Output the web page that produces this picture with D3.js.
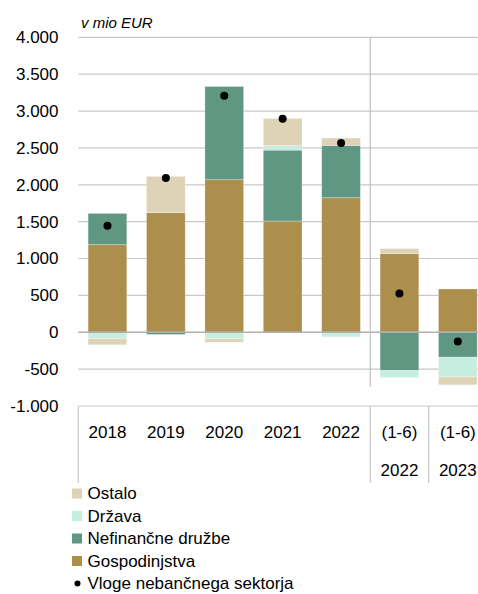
<!DOCTYPE html>
<html>
<head>
<meta charset="utf-8">
<script src="https://cdn.jsdelivr.net/npm/d3@7"></script>
<style>
  body { margin: 0; background: #fff; }
  svg { display: block; font-family: "Liberation Sans", Arial, sans-serif; }
</style>
</head>
<body>
<div id="chart"></div>
<script>
// data (mio EUR)
var categories = ["2018", "2019", "2020", "2021", "2022", "(1-6) 2022", "(1-6) 2023"];
var topLabels = ["2018", "2019", "2020", "2021", "2022", "(1-6)", "(1-6)"];
var subLabels = ["", "", "", "", "", "2022", "2023"];
var gospodinjstva = [1188, 1622, 2069, 1508, 1825, 1066, 587];
var nefinancne = [424, -30, 1264, 962, 709, -519, -339];
var drzava = [-85, 0, -90, 64, -63, -95, -266];
var ostalo = [-85, 492, -45, 366, 100, 68, -108];
var vloge = [1446, 2091, 3207, 2895, 2566, 524, -126];
var yTicks = [-1000, -500, 0, 500, 1000, 1500, 2000, 2500, 3000, 3500, 4000];

var seriesNames = ["Gospodinjstva", "Nefinančne družbe", "Država", "Ostalo"];
var seriesValues = [gospodinjstva, nefinancne, drzava, ostalo];
var seriesColors = ["#ad8f4d", "#5f9783", "#c6ede0", "#ded3b7"];

var width = 478, height = 594;
var plotLeft = 78.3, plotRight = 487, plotTop = 37.3, plotBottom = 406;

var svg = d3.select("#chart").append("svg")
    .attr("width", width)
    .attr("height", height);

var x = d3.scaleBand()
    .domain(categories)
    .range([plotLeft, plotRight])
    .paddingInner(0.337)
    .paddingOuter(0.168);

var y = d3.scaleLinear()
    .domain([-1000, 4000])
    .range([plotBottom, plotTop]);

var fmt = function(v) {
  var s = d3.format(",")(v).replace(/,/g, ".");
  return s.replace("−", "-");
};

// gridlines
svg.append("g").selectAll("line.grid")
  .data(yTicks.filter(function(d){ return d !== 0 && d !== -1000; }))
  .enter().append("line")
    .attr("x1", plotLeft).attr("x2", width)
    .attr("y1", function(d){ return y(d); })
    .attr("y2", function(d){ return y(d); })
    .style("stroke", "#c8c8c8")
    .style("stroke-width", 1.2);

// tick labels
svg.append("g").selectAll("text")
  .data(yTicks)
  .enter().append("text")
    .attr("x", 58.5)
    .attr("y", function(d){ return y(d); })
    .attr("dy", "0.35em")
    .style("text-anchor", "end")
    .style("font-size", "17px")
    .style("fill", "#000")
    .text(fmt);

svg.append("text")
    .attr("x", 81)
    .attr("y", 28)
    .style("font-size", "15px")
    .style("font-style", "italic")
    .style("fill", "#000")
    .text("v mio EUR");

// stacked bars (positive and negative separately)
var barData = [];
categories.forEach(function(c, i){
  var pos = 0, neg = 0;
  seriesValues.forEach(function(vals, s){
    var v = vals[i];
    if (v === 0) return;
    var y0, y1;
    if (v > 0) { y0 = pos; y1 = pos + v; pos = y1; }
    else { y0 = neg; y1 = neg + v; neg = y1; }
    barData.push({cat: c, s: s, y0: y0, y1: y1});
  });
});

svg.append("g").selectAll("rect")
  .data(barData)
  .enter().append("rect")
    .attr("x", function(d){ return x(d.cat); })
    .attr("width", x.bandwidth())
    .attr("y", function(d){ return y(Math.max(d.y0, d.y1)); })
    .attr("height", function(d){ return Math.abs(y(d.y0) - y(d.y1)); })
    .style("fill", function(d){ return seriesColors[d.s]; })
    .style("stroke", "#ffffff")
    .style("stroke-opacity", 0.35)
    .style("stroke-width", 0.8);

// zero line on top
svg.append("line")
    .attr("x1", plotLeft).attr("x2", width)
    .attr("y1", y(0)).attr("y2", y(0))
    .style("stroke", "#b0b0b0")
    .style("stroke-width", 1.5);

// separator between years and half-years
var sepX = x(categories[5]) - x.step() * x.paddingInner() / 2;
svg.append("line")
    .attr("x1", sepX).attr("x2", sepX)
    .attr("y1", plotTop).attr("y2", y(-740))
    .style("stroke", "#c0c0c0")
    .style("stroke-width", 1.2);

// dots
svg.append("g").selectAll("circle")
  .data(vloge)
  .enter().append("circle")
    .attr("cx", function(d, i){ return x(categories[i]) + x.bandwidth() / 2; })
    .attr("cy", function(d){ return y(d); })
    .attr("r", 4)
    .style("fill", "#000");

// category axis box
var axisBottom = 483;
var axis = svg.append("g");
axis.append("line")
    .attr("x1", plotLeft).attr("x2", width)
    .attr("y1", plotBottom).attr("y2", plotBottom)
    .style("stroke", "#c8c8c8").style("stroke-width", 1.2);
var dividers = [plotLeft, sepX, x(categories[6]) - x.step() * x.paddingInner() / 2];
axis.selectAll("line.div")
  .data(dividers)
  .enter().append("line")
    .attr("x1", function(d){ return d; }).attr("x2", function(d){ return d; })
    .attr("y1", plotBottom).attr("y2", axisBottom)
    .style("stroke", "#c8c8c8").style("stroke-width", 1.2);

axis.selectAll("text.top")
  .data(topLabels)
  .enter().append("text")
    .attr("x", function(d, i){ return x(categories[i]) + x.bandwidth() / 2; })
    .attr("y", 432)
    .attr("dy", "0.35em")
    .style("text-anchor", "middle")
    .style("font-size", "17px")
    .style("fill", "#000")
    .text(function(d){ return d; });

axis.selectAll("text.sub")
  .data(subLabels)
  .enter().append("text")
    .attr("x", function(d, i){ return x(categories[i]) + x.bandwidth() / 2; })
    .attr("y", 470)
    .attr("dy", "0.35em")
    .style("text-anchor", "middle")
    .style("font-size", "17px")
    .style("fill", "#000")
    .text(function(d){ return d; });

// legend
var legendItems = [
  {name: "Ostalo", color: seriesColors[3]},
  {name: "Država", color: seriesColors[2]},
  {name: "Nefinančne družbe", color: seriesColors[1]},
  {name: "Gospodinjstva", color: seriesColors[0]},
  {name: "Vloge nebančnega sektorja", dot: true}
];
var legend = svg.append("g").selectAll("g")
  .data(legendItems)
  .enter().append("g")
    .attr("transform", function(d, i){ return "translate(72," + (493.5 + i * 22.5) + ")"; });

legend.filter(function(d){ return !d.dot; }).append("rect")
    .attr("x", 0).attr("y", -5)
    .attr("width", 10).attr("height", 10)
    .style("fill", function(d){ return d.color; });
legend.filter(function(d){ return d.dot; }).append("circle")
    .attr("cx", 5.5).attr("cy", 0).attr("r", 3)
    .style("fill", "#000");
legend.append("text")
    .attr("x", 15.5)
    .attr("dy", "0.35em")
    .style("font-size", "17px")
    .style("fill", "#000")
    .text(function(d){ return d.name; });
</script>
</body>
</html>
